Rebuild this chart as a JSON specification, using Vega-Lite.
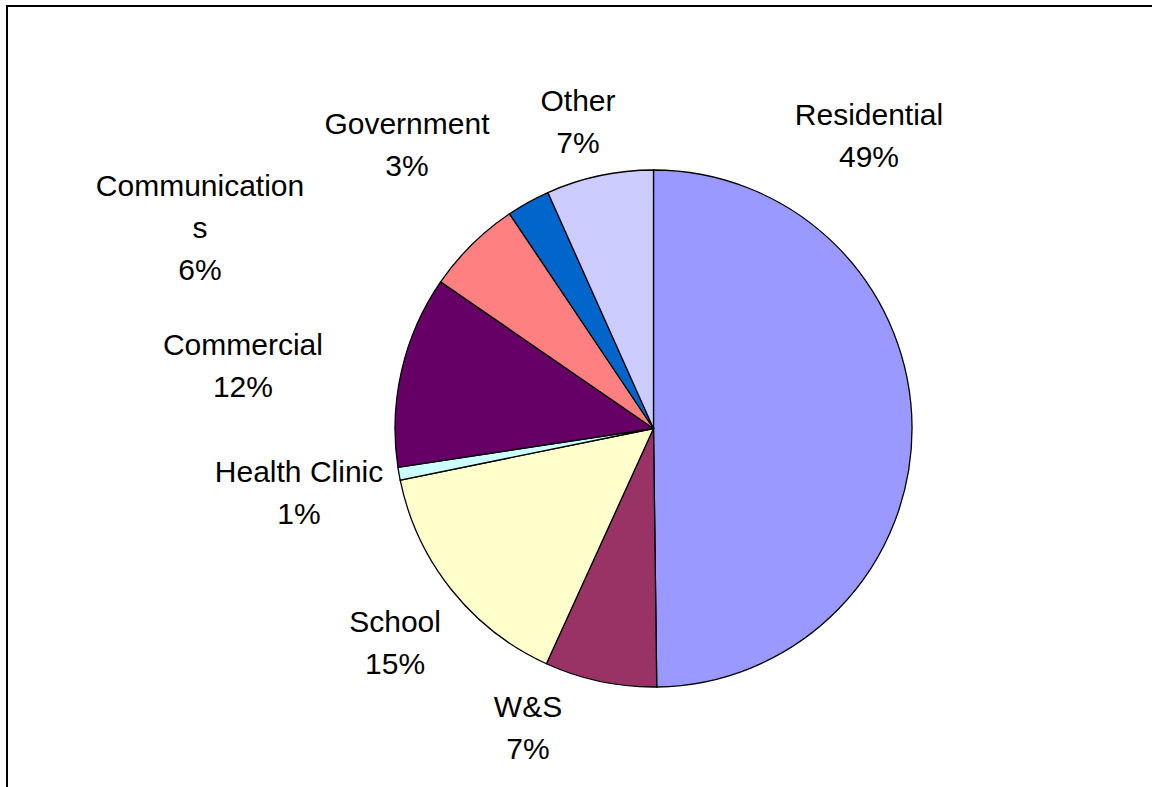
{
  "$schema": "https://vega.github.io/schema/vega-lite/v6.json",
  "width": 1293,
  "height": 845,
  "autosize": "none",
  "padding": {"left": 7, "top": 6, "right": 0, "bottom": 0},
  "background": "white",
  "view": {"stroke": "#000000", "strokeWidth": 2, "fill": "white"},
  "config": {
    "text": {"font": "Liberation Sans", "fontSize": 30, "lineBreak": "\n", "lineHeight": 42, "align": "center", "baseline": "middle", "color": "#000000", "radius": 300}
  },
  "data": {
    "values": [
      {"idx": 1, "category": "Residential", "share": 49.8, "label": "Residential\n49%"},
      {"idx": 2, "category": "W&S", "share": 7.0, "label": "W&S\n7%"},
      {"idx": 3, "category": "School", "share": 15.0, "label": "School\n15%"},
      {"idx": 4, "category": "Health Clinic", "share": 0.8, "label": "Health Clinic\n1%"},
      {"idx": 5, "category": "Commercial", "share": 12.0, "label": "Commercial\n12%"},
      {"idx": 6, "category": "Communications", "share": 6.0, "label": "Communication\ns\n6%"},
      {"idx": 7, "category": "Government", "share": 2.7, "label": "Government\n3%"},
      {"idx": 8, "category": "Other", "share": 6.7, "label": "Other\n7%"}
    ]
  },
  "encoding": {
    "theta": {"field": "share", "type": "quantitative", "stack": true},
    "order": {"field": "idx", "type": "quantitative", "sort": "ascending"}
  },
  "layer": [
    {
      "mark": {"type": "arc", "radius": 258.5, "stroke": "#000000", "strokeWidth": 1.3},
      "encoding": {
        "color": {
          "field": "category",
          "type": "nominal",
          "scale": {
            "domain": ["Residential", "W&S", "School", "Health Clinic", "Commercial", "Communications", "Government", "Other"],
            "range": ["#9999FF", "#993366", "#FFFFCC", "#CCFFFF", "#660066", "#FF8080", "#0066CC", "#CCCCFF"]
          },
          "legend": null
        }
      }
    },
    {
      "mark": {"type": "text", "radius": 300, "dx": -84.5, "dy": -310.6},
      "encoding": {"text": {"condition": {"test": "datum.category === 'Residential'", "field": "label", "type": "nominal"}, "value": ""}}
    },
    {
      "mark": {"type": "text", "radius": 300, "dx": -63.7, "dy": -14.1},
      "encoding": {"text": {"condition": {"test": "datum.category === 'W&S'", "field": "label", "type": "nominal"}, "value": ""}}
    },
    {
      "mark": {"type": "text", "radius": 300, "dx": -23.7, "dy": 7.7},
      "encoding": {"text": {"condition": {"test": "datum.category === 'School'", "field": "label", "type": "nominal"}, "value": ""}}
    },
    {
      "mark": {"type": "text", "radius": 300, "dx": -59.1, "dy": -8},
      "encoding": {"text": {"condition": {"test": "datum.category === 'Health Clinic'", "field": "label", "type": "nominal"}, "value": ""}}
    },
    {
      "mark": {"type": "text", "radius": 300, "dx": -118.2, "dy": -15.2},
      "encoding": {"text": {"condition": {"test": "datum.category === 'Commercial'", "field": "label", "type": "nominal"}, "value": ""}}
    },
    {
      "mark": {"type": "text", "radius": 300, "dx": -242.7, "dy": -28},
      "encoding": {"text": {"condition": {"test": "datum.category === 'Communications'", "field": "label", "type": "nominal"}, "value": ""}}
    },
    {
      "mark": {"type": "text", "radius": 300, "dx": -101.2, "dy": -41.1},
      "encoding": {"text": {"condition": {"test": "datum.category === 'Government'", "field": "label", "type": "nominal"}, "value": ""}}
    },
    {
      "mark": {"type": "text", "radius": 300, "dx": -12.8, "dy": -33.1},
      "encoding": {"text": {"condition": {"test": "datum.category === 'Other'", "field": "label", "type": "nominal"}, "value": ""}}
    }
  ]
}
